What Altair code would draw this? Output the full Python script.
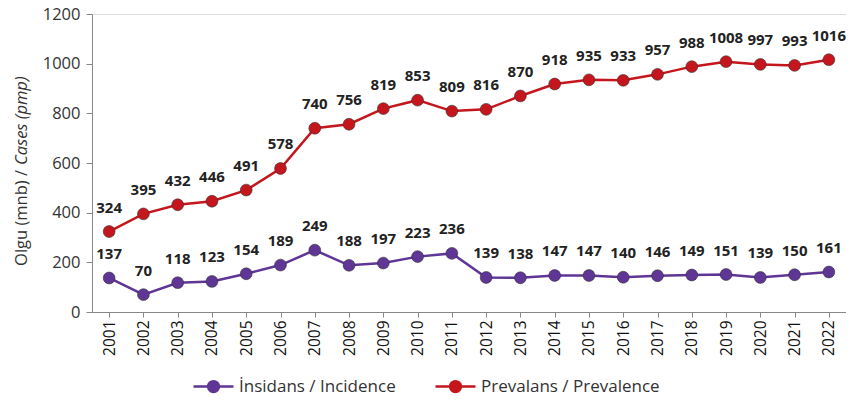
import altair as alt
import pandas as pd

years = [str(y) for y in range(2001, 2023)]
incidence = [137, 70, 118, 123, 154, 189, 249, 188, 197, 223, 236, 139, 138, 147, 147, 140, 146, 149, 151, 139, 150, 161]
prevalence = [324, 395, 432, 446, 491, 578, 740, 756, 819, 853, 809, 816, 870, 918, 935, 933, 957, 988, 1008, 997, 993, 1016]
series_names = ["İnsidans / Incidence", "Prevalans / Prevalence"]
series_colors = ["#5f3596", "#c4161c"]

rows = []
for y, v in zip(years, incidence):
    rows.append({"year": y, "value": v, "series": series_names[0]})
for y, v in zip(years, prevalence):
    rows.append({"year": y, "value": v, "series": series_names[1]})
df = pd.DataFrame(rows)

FONT = "Open Sans"
legend_symbol = "M-1,0H-0.27A0.27,0.27,0,1,1,0.27,0H1M0.27,0A0.27,0.27,0,1,1,-0.27,0Z"

x = alt.X("year:N", sort=years, scale=alt.Scale(type="point", padding=0.5),
          axis=alt.Axis(title=None, labelAngle=270, labelFontSize=15.5, labelColor="#111",
                        labelFont=FONT, domainColor="#888", tickColor="#888", tickSize=5,
                        labelPadding=3, grid=False))
y = alt.Y("value:Q", scale=alt.Scale(domain=[0, 1200]),
          axis=alt.Axis(title=None, values=list(range(0, 1201, 200)), format="d", labelFontSize=16.5,
                        labelColor="#333", labelFont=FONT, domainColor="#888", tickColor="#888",
                        tickSize=6, grid=False, labelPadding=6))
color = alt.Color("series:N", scale=alt.Scale(domain=series_names, range=series_colors),
                  legend=alt.Legend(title=None, orient="none", direction="horizontal",
                                    legendX=100, legendY=351, symbolType=legend_symbol,
                                    symbolSize=1600, symbolStrokeWidth=2.5,
                                    labelFontSize=17, labelFont=FONT, labelColor="#333",
                                    columnPadding=34, labelOffset=4, labelLimit=300))

base = alt.Chart(df)
lines = base.mark_line(strokeWidth=2.5).encode(x=x, y=y, color=color)
points = base.mark_circle(size=140, opacity=1, stroke="#333", strokeWidth=0.6).encode(
    x=x, y=y, color=alt.Color("series:N", scale=alt.Scale(domain=series_names, range=series_colors), legend=None))
labels = base.mark_text(dy=-24, fontSize=15, fontWeight="bold", font=FONT, color="#222").encode(
    x=x, y=y, text="value:Q")

title_df = pd.DataFrame({"t": ["x"]})
t1 = alt.Chart(title_df).mark_text(angle=270, align="right", baseline="middle", fontSize=16.5,
                                   font=FONT, color="#333").encode(
    x=alt.value(-70), y=alt.value(156), text=alt.value("Olgu (mnb) /"))
t2 = alt.Chart(title_df).mark_text(angle=270, align="left", baseline="middle", fontSize=16.5,
                                   font=FONT, color="#333", fontStyle="italic").encode(
    x=alt.value(-70), y=alt.value(151), text=alt.value("Cases (pmp)"))

chart = alt.layer(lines, points, labels, t1, t2).properties(
    width=754, height=298,
    autosize=alt.AutoSizeParams(type="none"),
    padding={"left": 84, "top": 6, "right": 0, "bottom": 92},
).configure_view(stroke=None).configure(background="white")

chart.save("out.html", embed_options={"renderer": "svg", "actions": False})
